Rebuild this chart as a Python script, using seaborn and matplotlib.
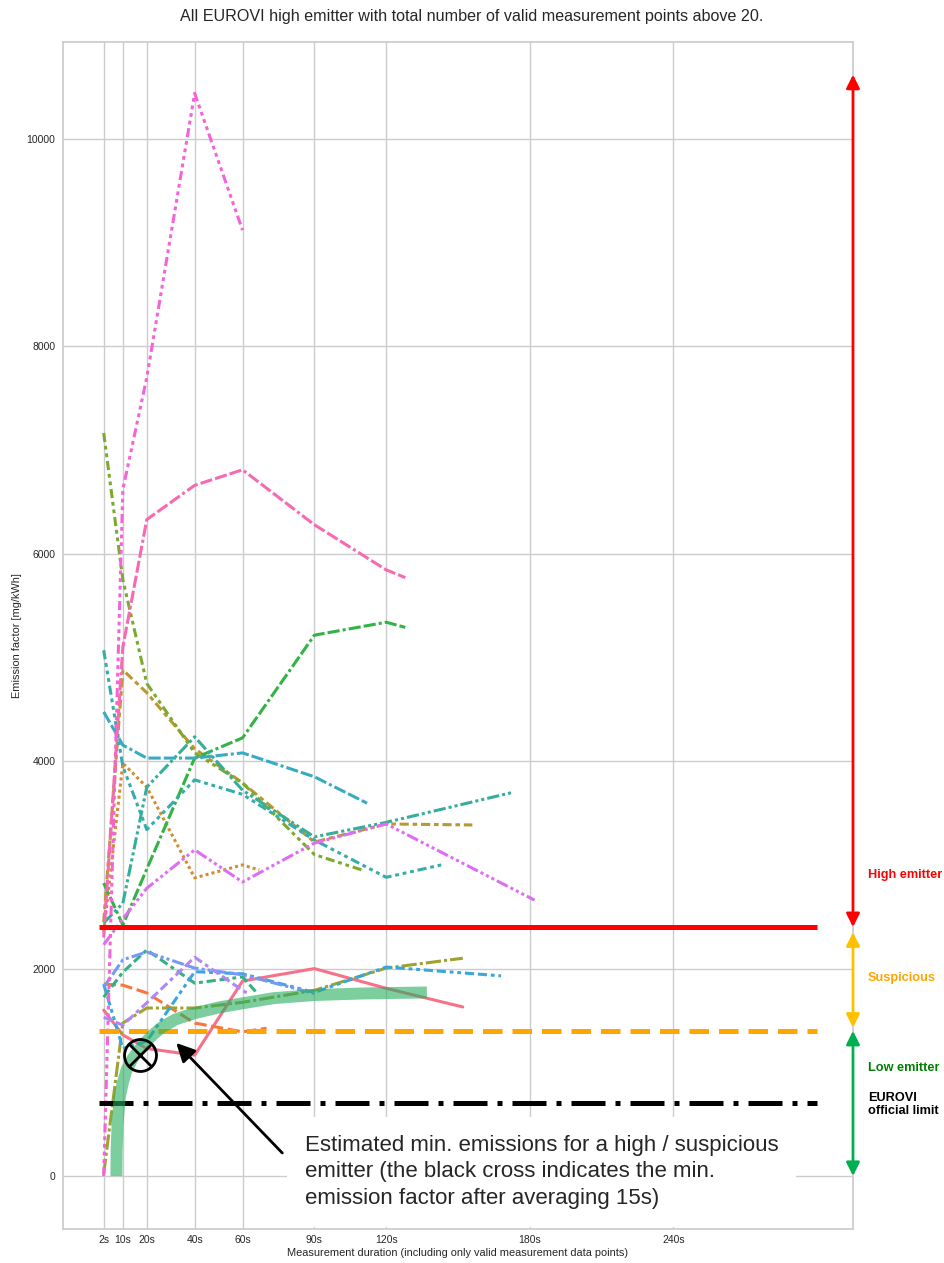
import matplotlib
matplotlib.use("Agg")
import matplotlib.pyplot as plt
import pandas as pd
import seaborn as sns

# ---- emission factor per vehicle vs. averaging duration [s] -> [mg/kWh] ----
v01_t = [2, 10, 20, 40, 60, 90, 120, 152]
v01_ef = [1600, 1360, 1230, 1165, 1880, 2000, 1810, 1630]
v02_t = [2, 10, 20, 40, 60, 70]
v02_ef = [1850, 1840, 1765, 1475, 1390, 1425]
v03_t = [2, 10, 20, 40, 60, 67]
v03_ef = [2350, 3980, 3750, 2875, 3000, 2950]
v04_t = [2, 10, 20, 40, 60, 90, 120, 156]
v04_ef = [2450, 4880, 4660, 4120, 3790, 3220, 3395, 3385]
v05_t = [2, 10, 20, 40, 60, 90, 120, 152]
v05_ef = [20, 1475, 1620, 1620, 1675, 1790, 2005, 2100]
v06_t = [2, 10, 20, 40, 60, 90, 110]
v06_ef = [7165, 5750, 4750, 4080, 3790, 3100, 2950]
v07_t = [2, 10, 20, 40, 60, 90, 120, 128]
v07_ef = [2825, 2420, 2960, 4030, 4225, 5215, 5340, 5290]
v08_t = [2, 10, 20, 40, 60, 66]
v08_ef = [1725, 1965, 2180, 1860, 1920, 1765]
v09_t = [2, 10, 20, 40, 60, 90, 120, 173]
v09_ef = [2440, 2630, 3750, 4235, 3720, 3270, 3410, 3700]
v10_t = [2, 10, 20, 40, 60, 90, 120, 143]
v10_ef = [5070, 3950, 3340, 3820, 3680, 3240, 2880, 3000]
v11_t = [2, 10, 20, 40, 60, 90, 112]
v11_ef = [4475, 4155, 4030, 4030, 4080, 3850, 3595]
v12_t = [2, 10, 20, 40, 60, 90, 120, 168]
v12_ef = [1850, 1230, 1300, 1970, 1950, 1770, 2015, 1930]
v13_t = [2, 10, 20, 40, 60, 90]
v13_ef = [1820, 2085, 2160, 2005, 1940, 1760]
v14_t = [2, 10, 20, 40, 60, 63]
v14_ef = [1530, 1455, 1670, 2110, 1790, 1750]
v15_t = [2, 10, 20, 40, 60, 90, 120, 182]
v15_ef = [2230, 2480, 2775, 3145, 2835, 3210, 3395, 2660]
v16_t = [2, 10, 20, 40, 60]
v16_ef = [0, 6620, 7700, 10440, 9120]
v17_t = [2, 10, 20, 40, 60, 90, 120, 128]
v17_ef = [2300, 5100, 6330, 6660, 6810, 6280, 5845, 5770]

vehicle_ids = [f"V{i:02d}" for i in range(1, 18)]
vehicle_t = [v01_t, v02_t, v03_t, v04_t, v05_t, v06_t, v07_t, v08_t, v09_t,
             v10_t, v11_t, v12_t, v13_t, v14_t, v15_t, v16_t, v17_t]
vehicle_ef = [v01_ef, v02_ef, v03_ef, v04_ef, v05_ef, v06_ef, v07_ef, v08_ef, v09_ef,
              v10_ef, v11_ef, v12_ef, v13_ef, v14_ef, v15_ef, v16_ef, v17_ef]

# estimated lower envelope of emissions for a high / suspicious emitter
min_t = [7.3, 7.4, 7.8, 8.7, 10, 11.5, 14, 16.2, 19, 22, 26, 32, 40, 50, 60, 73, 90, 110, 137]
min_ef = [0, 250, 500, 760, 900, 1020, 1130, 1200, 1280, 1350, 1430, 1510, 1570, 1625,
          1665, 1715, 1745, 1760, 1770]

# min. emission factor after averaging 15 s
cross_t = 17
cross_ef = 1165

# classification thresholds [mg/kWh]
high_threshold = 2400
suspicious_threshold = 1400
eurovi_limit = 700
threshold_span = [0, 300]
high_arrow_top = 10620

tick_pos = [2, 10, 20, 40, 60, 90, 120, 180, 240]
tick_labels = ["2s", "10s", "20s", "40s", "60s", "90s", "120s", "180s", "240s"]

rows = []
for vid, ts, efs in zip(vehicle_ids, vehicle_t, vehicle_ef):
    for t, e in zip(ts, efs):
        rows.append({"vehicle": vid, "duration": t, "ef": e})
df = pd.DataFrame(rows)

sns.set_theme(style="whitegrid")
plt.rcParams["font.family"] = ["Liberation Sans", "DejaVu Sans"]

fig = plt.figure(figsize=(9.44, 12.63), dpi=100)
ax = fig.add_axes([63 / 944, 1 - 1229 / 1263, 790 / 944, (1229 - 42) / 1263])

sns.lineplot(data=df, x="duration", y="ef", hue="vehicle", style="vehicle",
             hue_order=vehicle_ids, style_order=vehicle_ids, estimator=None,
             sort=False, legend=False, linewidth=2.2, ax=ax)

# threshold lines
ax.plot(threshold_span, [high_threshold] * 2, color="red", lw=3.6, zorder=5,
        solid_capstyle="butt")
ax.plot(threshold_span, [suspicious_threshold] * 2, color="orange", lw=3.6, zorder=5,
        dashes=(3.9, 2.0))
ax.plot(threshold_span, [eurovi_limit] * 2, color="black", lw=3.6, zorder=5,
        dashes=(6.8, 2, 1, 2))

# lower envelope band and the averaging marker
ax.plot(min_t, min_ef, color="#27ae60", alpha=0.6, lw=8.6, solid_capstyle="butt",
        zorder=6)
ax.plot([cross_t], [cross_ef], marker="o", ms=23, mfc="none", mec="black", mew=2,
        zorder=7)
ax.plot([cross_t], [cross_ef], marker="x", ms=16, mec="black", mew=2, zorder=7)

ax.annotate("", xy=(32.3, 1283), xytext=(76.6, 222),
            arrowprops=dict(arrowstyle="-|>", color="black", lw=2,
                            mutation_scale=28, shrinkA=0, shrinkB=0),
            zorder=8)
ax.text(86, 40, "Estimated min. emissions for a high / suspicious\n"
        "emitter (the black cross indicates the min.\n"
        "emission factor after averaging 15s)",
        fontsize=16, ha="left", va="center", linespacing=1.35, zorder=8,
        bbox=dict(boxstyle="square,pad=0.8", fc="white", ec="none"))

# class arrows on the right edge
trans = ("axes fraction", "data")
for lo, hi, col in [(high_threshold, high_arrow_top, "red"),
                    (1430, 2350, "#ffc000"),
                    (0, suspicious_threshold, "#00b050")]:
    ax.annotate("", xy=(1, hi), xytext=(1, lo), xycoords=trans, textcoords=trans,
                arrowprops=dict(arrowstyle="<|-|>", color=col, lw=2,
                                mutation_scale=20, shrinkA=0, shrinkB=0),
                annotation_clip=False)

tx = ax.get_yaxis_transform()
lab = dict(transform=tx, fontsize=9.2, fontweight="bold", ha="left", va="center",
           clip_on=False)
ax.text(1.019, 2900, "High emitter", color="red", **lab)
ax.text(1.019, 1910, "Suspicious", color="#ffa500", **lab)
ax.text(1.019, 1040, "Low emitter", color="green", **lab)
ax.text(1.019, 690, "EUROVI\nofficial limit", color="black", linespacing=1.1, **lab)

ax.set_xlim(-15, 315)
ax.set_ylim(-511, 10935)
ax.set_xticks(tick_pos)
ax.set_xticklabels(tick_labels)
ax.set_yticks([0, 2000, 4000, 6000, 8000, 10000])
ax.tick_params(axis="both", length=0, labelsize=7.5)
ax.tick_params(axis="x", pad=4.5)
ax.tick_params(axis="y", pad=5.5)
ax.set_xlabel("Measurement duration (including only valid measurement data points)",
              fontsize=7.9, labelpad=2)
ax.set_ylabel("Emission factor [mg/kWh]", fontsize=7.9, labelpad=3)
fig.text(0.5, 1 - 17 / 1263,
         "All EUROVI high emitter with total number of valid measurement points above 20.",
         fontsize=11.6, ha="center", va="center")

fig.savefig("out.png", dpi=100)
